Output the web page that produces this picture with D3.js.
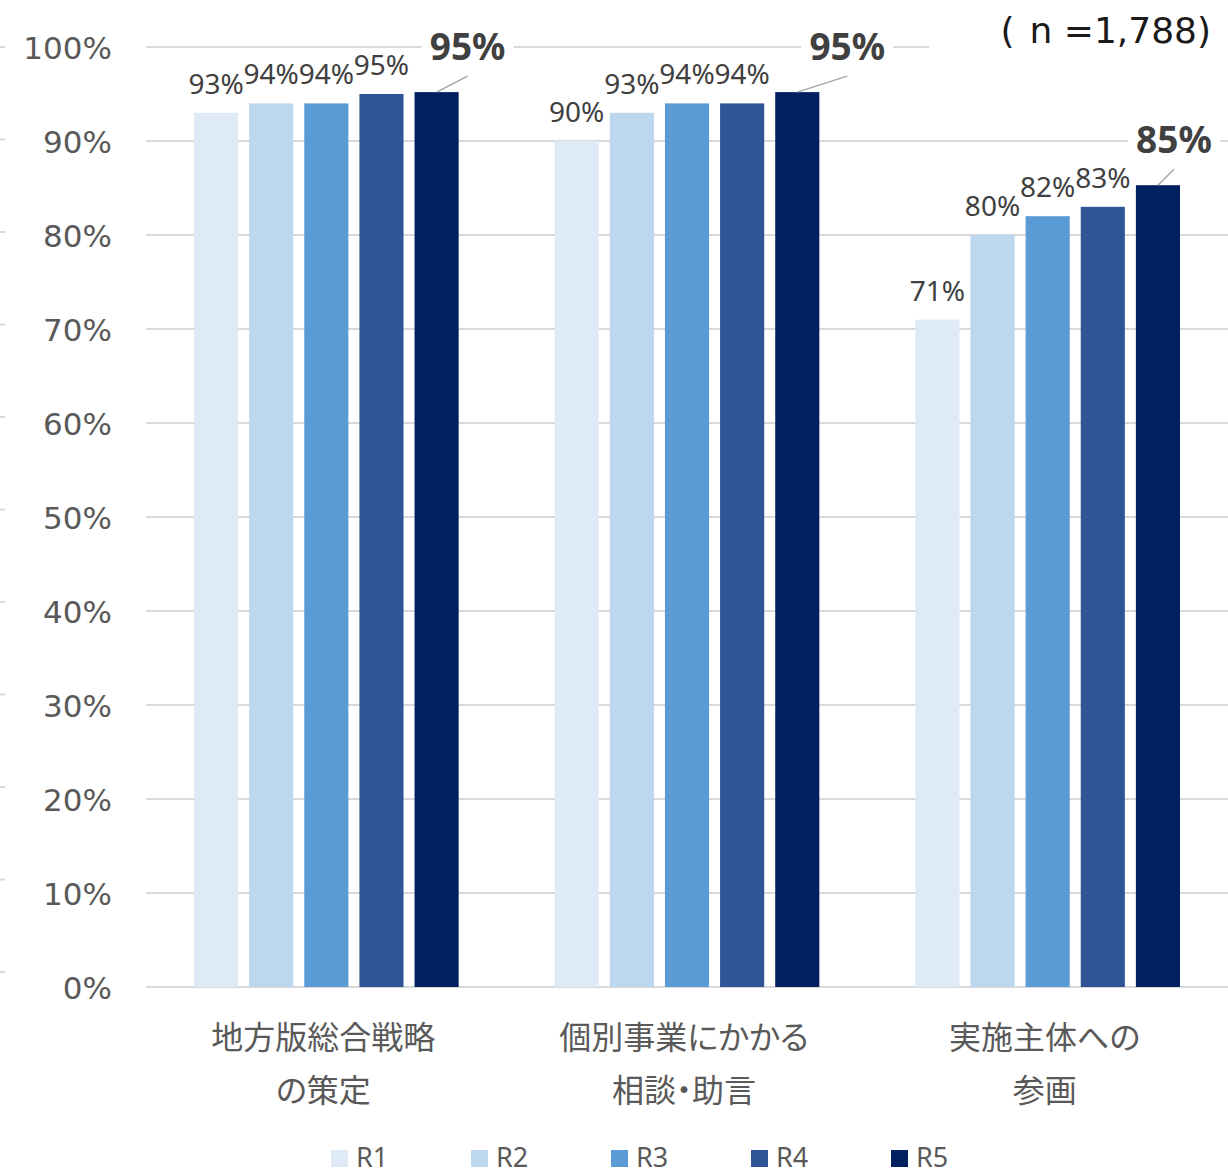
<!DOCTYPE html>
<html>
<head>
<meta charset="utf-8">
<script src="https://cdn.jsdelivr.net/npm/d3@7"></script>
<style>
  html, body { margin: 0; padding: 0; background: #fff; }
  svg { display: block; }
  .cat { font-feature-settings: "palt"; }
</style>
</head>
<body>
<svg id="chart" width="1228" height="1174"></svg>
<script>
// Survey items (two-line axis labels)
const categories = ["地方版総合戦略|の策定", "個別事業にかかる|相談・助言", "実施主体への|参画"];
// Fiscal years (series)
const seriesNames = ["R1", "R2", "R3", "R4", "R5"];
// Share of respondents per item, in %
const valuesR1 = [93, 90, 71];
const valuesR2 = [94, 93, 80];
const valuesR3 = [94, 94, 82];
const valuesR4 = [95, 94, 83];
const valuesR5 = [95.2, 95.2, 85.3];
// Value axis ticks
const yTicks = [0, 10, 20, 30, 40, 50, 60, 70, 80, 90, 100];
const sampleNote = ["(", "n =1,788)"];

const seriesValues = [valuesR1, valuesR2, valuesR3, valuesR4, valuesR5];
const colors = ["#deebf7", "#bdd7ee", "#5b9bd5", "#2f5597", "#002060"];
// horizontal shift of the highlighted (latest year) labels, per item
const latestLabelShift = [31, 50, 16];

const svg = d3.select("#chart");
const W = 1228;

const y = d3.scaleLinear().domain([0, 100]).range([987, 47]);
const x0 = d3.scaleBand().domain(categories).range([146, W]);
const x1 = d3.scaleBand().domain(seriesNames)
  .range([48, x0.bandwidth() - 48]).paddingInner(0.2);
const edge = d3.scaleLinear().domain([0, 100]).range([972, 47]);
const pct = v => Math.round(v) + "%";

// short marks along the left edge
svg.append("g").selectAll("line").data(yTicks).join("line")
  .attr("x1", 0).attr("x2", 5)
  .attr("y1", d => edge(d)).attr("y2", d => edge(d))
  .attr("stroke", "#d9d9d9").attr("stroke-width", 2);

// gridlines
svg.append("g").selectAll("line").data(yTicks).join("line")
  .attr("x1", 146).attr("x2", W)
  .attr("y1", d => y(d)).attr("y2", d => y(d))
  .attr("stroke", "#d9d9d9").attr("stroke-width", 2);

// value axis labels
svg.append("g").selectAll("text").data(yTicks).join("text")
  .attr("x", 112).attr("y", d => y(d) + 12)
  .attr("text-anchor", "end")
  .attr("font-family", "DejaVu Sans")
  .attr("font-size", 31)
  .attr("fill", "#595959")
  .text(d => d + "%");

// flat records for bars
const records = [];
categories.forEach((c, ci) => {
  seriesNames.forEach((s, si) => {
    records.push({ cat: c, ci, s, si, v: seriesValues[si][ci] });
  });
});

// bars
svg.append("g").selectAll("rect").data(records).join("rect")
  .attr("x", d => x0(d.cat) + x1(d.s))
  .attr("y", d => y(d.v))
  .attr("width", x1.bandwidth())
  .attr("height", d => y(0) - y(d.v))
  .attr("fill", d => colors[d.si]);

// labels for earlier years
svg.append("g").selectAll("text").data(records.filter(d => d.si < 4)).join("text")
  .attr("x", d => x0(d.cat) + x1(d.s) + x1.bandwidth() / 2)
  .attr("y", d => y(d.v) - 19)
  .attr("text-anchor", "middle")
  .attr("font-family", "Noto Sans")
  .attr("font-size", 28)
  .attr("fill", "#404040")
  .text(d => pct(d.v));

// highlighted labels for the latest year
const latest = records.filter(d => d.si === 4);
const latestG = svg.append("g");
latest.forEach(d => {
  const bx = x0(d.cat) + x1(d.s) + x1.bandwidth() / 2;
  const top = y(d.v);
  const lx = bx + latestLabelShift[d.ci];
  const base = top - 32;
  latestG.append("rect")
    .attr("x", lx - 46).attr("y", base - 36)
    .attr("width", 92).attr("height", 40)
    .attr("fill", "#fff");
  latestG.append("line")
    .attr("x1", bx).attr("y1", top)
    .attr("x2", lx).attr("y2", top - 16)
    .attr("stroke", "#a6a6a6").attr("stroke-width", 1.5);
  latestG.append("text")
    .attr("x", lx).attr("y", base)
    .attr("text-anchor", "middle")
    .attr("font-family", "Noto Sans")
    .attr("font-weight", "bold")
    .attr("font-size", 37)
    .attr("fill", "#404040")
    .text(pct(d.v));
});

// sample size note
svg.append("rect").attr("x", 929).attr("y", 8).attr("width", W - 929).attr("height", 48).attr("fill", "#fff");
const note = svg.append("text")
  .attr("x", 1211).attr("y", 43)
  .attr("text-anchor", "end")
  .attr("font-family", "DejaVu Sans")
  .attr("font-size", 36)
  .attr("fill", "#1a1a1a");
note.append("tspan").text(sampleNote[0]);
note.append("tspan").attr("dx", 15).text(sampleNote[1]);

// category labels
const catG = svg.append("g");
categories.forEach(c => {
  const cx = x0(c) + x0.bandwidth() / 2 - 3;
  c.split("|").forEach((line, i) => {
    catG.append("text")
      .attr("class", "cat")
      .attr("x", cx).attr("y", 1049 + i * 53)
      .attr("text-anchor", "middle")
      .attr("font-family", "Noto Sans CJK JP")
      .attr("font-size", 32)
      .attr("fill", "#595959")
      .text(line);
  });
});

// legend
const leg = svg.append("g").selectAll("g").data(seriesNames).join("g")
  .attr("transform", (d, i) => `translate(${331 + i * 140},0)`);
leg.append("rect").attr("x", 0).attr("y", 1150).attr("width", 17).attr("height", 17)
  .attr("fill", (d, i) => colors[i]);
leg.append("text").attr("x", 25).attr("y", 1167)
  .attr("font-family", "Noto Sans").attr("font-size", 27).attr("fill", "#595959")
  .text(d => d);
</script>
</body>
</html>
